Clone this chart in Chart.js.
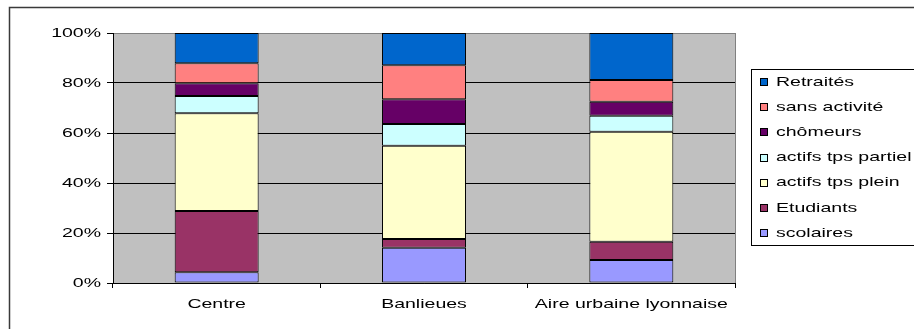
<!DOCTYPE html>
<html>
<head>
<meta charset="utf-8">
<script src="https://cdn.jsdelivr.net/npm/chart.js@4/dist/chart.umd.min.js"></script>
<style>
html,body{margin:0;padding:0;background:#fff;}
canvas{display:block;}
</style>
</head>
<body>
<canvas id="c" width="914" height="329"></canvas>
<script>
const categories = ["Centre", "Banlieues", "Aire urbaine lyonnaise"];
const scolaires = [4.3, 14.1, 9.2];
const etudiants = [24.5, 3.5, 7.3];
const actifsPlein = [39.1, 37.3, 44.0];
const actifsPartiel = [6.9, 8.7, 6.4];
const chomeurs = [5.1, 9.9, 5.6];
const sansActivite = [8.0, 13.6, 8.7];
const retraites = [12.1, 12.9, 18.8];
const yTicks = [0, 20, 40, 60, 80, 100];

const FONT = '"Liberation Sans", Arial, sans-serif';
const SX = 1.5;

const series = [
  {label: "scolaires", data: scolaires, color: "#9999FF"},
  {label: "Etudiants", data: etudiants, color: "#993366"},
  {label: "actifs tps plein", data: actifsPlein, color: "#FFFFCC"},
  {label: "actifs tps partiel", data: actifsPartiel, color: "#CCFFFF"},
  {label: "chômeurs", data: chomeurs, color: "#660066"},
  {label: "sans activité", data: sansActivite, color: "#FF8080"},
  {label: "Retraités", data: retraites, color: "#0066CC"}
];

const stretchText = {
  id: 'stretchText',
  beforeInit(chart) {
    const ctx = chart.ctx;
    const orig = ctx.fillText.bind(ctx);
    ctx.fillText = function(t, x, y) {
      ctx.save();
      ctx.translate(x, y);
      ctx.scale(SX, 1);
      orig(t, 0, 0);
      ctx.restore();
    };
  }
};

const frame = {
  id: 'frame',
  beforeDraw(chart) {
    const ctx = chart.ctx;
    const a = chart.chartArea;
    ctx.save();
    ctx.strokeStyle = '#3a3a3a';
    ctx.lineWidth = 1.5;
    ctx.strokeRect(9.5, 7.5, 1000, 1000);
    ctx.fillStyle = '#C0C0C0';
    ctx.fillRect(a.left, a.top, a.right - a.left, a.bottom - a.top);
    ctx.strokeStyle = '#808080';
    ctx.lineWidth = 1;
    ctx.strokeRect(a.left + 0.5, a.top + 0.5, a.right - a.left, a.bottom - a.top);
    ctx.restore();
  },
  afterDraw(chart) {
    const ctx = chart.ctx;
    ctx.save();
    // legend box
    ctx.fillStyle = '#fff';
    ctx.strokeStyle = '#000';
    ctx.lineWidth = 1;
    ctx.fillRect(751.5, 69.5, 300, 176);
    ctx.strokeRect(751.5, 69.5, 300, 176);
    const ds = chart.data.datasets.slice().reverse();
    ctx.font = '13px ' + FONT;
    ctx.textBaseline = 'middle';
    ctx.textAlign = 'left';
    ds.forEach((d, i) => {
      const y = 82 + i * 25.2;
      ctx.fillStyle = d.backgroundColor;
      ctx.fillRect(760.5, Math.round(y) - 3.5, 7, 7);
      ctx.strokeStyle = '#000';
      ctx.strokeRect(760.5, Math.round(y) - 3.5, 7, 7);
      ctx.fillStyle = '#000';
      ctx.fillText(d.label, 776, y);
    });
    ctx.restore();
  }
};

new Chart(document.getElementById('c'), {
  type: 'bar',
  data: {
    labels: categories,
    datasets: series.map(s => ({
      label: s.label,
      data: s.data,
      backgroundColor: s.color,
      borderColor: '#000',
      borderWidth: 1,
      borderSkipped: false,
      barPercentage: 0.405,
      categoryPercentage: 1
    }))
  },
  options: {
    responsive: false,
    devicePixelRatio: 1,
    animation: false,
    layout: {padding: {left: 0, top: 33, right: 179, bottom: 0}},
    plugins: {legend: {display: false}, tooltip: {enabled: false}},
    scales: {
      x: {
        stacked: true,
        afterFit(s) { s.height = 46; },
        grid: {offset: true, drawOnChartArea: false, color: '#000', tickLength: 5},
        border: {display: true, color: '#000', width: 1},
        ticks: {font: {family: FONT, size: 13}, color: '#000', padding: 9, autoSkip: false, maxRotation: 0}
      },
      y: {
        stacked: true,
        min: 0,
        max: 100,
        afterFit(s) { s.width = 113; },
        afterBuildTicks(s) { s.ticks = yTicks.map(v => ({value: v})); },
        grid: {
          color: c => (c.tick && c.tick.value === 100) ? '#808080' : '#000',
          tickColor: '#000',
          lineWidth: 1,
          tickLength: 6
        },
        border: {display: true, color: '#000', width: 1},
        ticks: {font: {family: FONT, size: 13}, color: '#000', padding: 6, callback: v => v + '%'}
      }
    }
  },
  plugins: [stretchText, frame]
});
</script>
</body>
</html>
